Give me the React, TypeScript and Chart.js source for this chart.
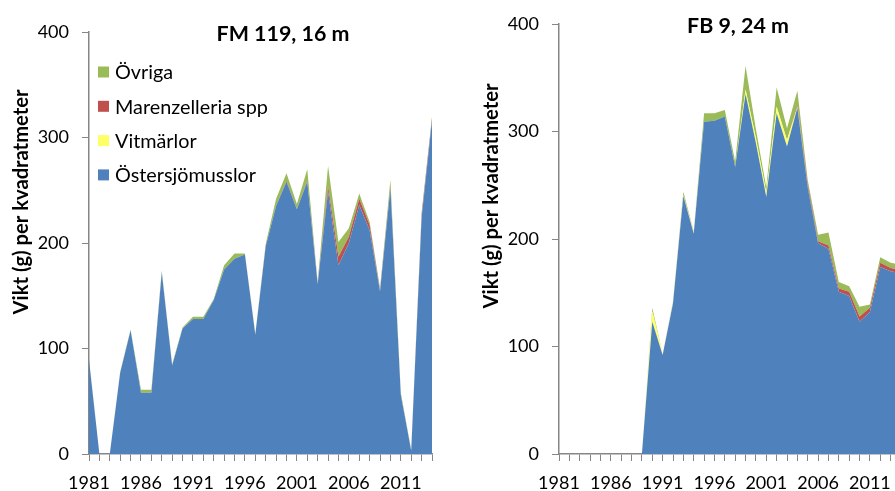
import React, { useEffect, useRef } from 'react';
import { Chart, registerables } from 'chart.js';

Chart.register(...registerables);

// ---------- data ----------
const years = [
  '1981', '1982', '1983', '1984', '1985', '1986', '1987', '1988', '1989', '1990',
  '1991', '1992', '1993', '1994', '1995', '1996', '1997', '1998', '1999', '2000',
  '2001', '2002', '2003', '2004', '2005', '2006', '2007', '2008', '2009', '2010',
  '2011', '2012', '2013', '2014',
];

const seriesNames = ['Östersjömusslor', 'Vitmärlor', 'Marenzelleria spp', 'Övriga'];
const yTickValues = [0, 100, 200, 300, 400];

// FM 119, 16 m
const fmMusslor = [89, 0, 0, 77, 117, 58, 58, 172, 84, 119, 128, 128, 146, 175, 185, 189, 113, 197, 235, 258, 232, 258, 161, 249, 179, 200, 236, 212, 154, 252, 56, 3, 224, 316];
const fmVitmarlor = [0, 0, 0, 0, 0, 0, 0, 0, 0, 0, 0, 0, 0, 0, 0, 0, 0, 0, 0, 0, 0, 0, 0, 0, 0, 0, 0, 0, 0, 0, 0, 0, 0, 0];
const fmMarenzelleria = [0, 0, 0, 0, 0, 0, 0, 0, 0, 0, 0, 0, 0, 0, 0, 0, 0, 0, 0, 1, 0, 1, 0, 5, 8, 6, 6, 5, 1, 1, 0, 0, 3, 2];
const fmOvriga = [1, 0, 0, 1, 1, 3, 3, 2, 1, 1, 2, 2, 1, 4, 5, 1, 1, 2, 7, 7, 5, 11, 2, 19, 14, 8, 5, 3, 2, 7, 2, 1, 2, 2];

// FB 9, 24 m
const fbMusslor = [0, 0, 0, 0, 0, 0, 0, 0, 0, 123, 92, 140, 240, 205, 309, 310, 314, 267, 335, 289, 239, 317, 286, 322, 248, 196, 191, 151, 147, 123, 132, 174, 170, 168];
const fbVitmarlor = [0, 0, 0, 0, 0, 0, 0, 0, 0, 10, 1, 1, 1, 1, 0, 0, 0, 0, 4, 5, 4, 6, 6, 1, 0, 0, 0, 0, 0, 0, 0, 0, 0, 0];
const fbMarenzelleria = [0, 0, 0, 0, 0, 0, 0, 0, 0, 0, 0, 0, 0, 0, 0, 0, 0, 0, 0, 0, 0, 0, 0, 2, 3, 2, 3, 3, 4, 5, 4, 4, 3, 3];
const fbOvriga = [0, 0, 0, 0, 0, 0, 0, 0, 0, 3, 0, 1, 3, 1, 8, 7, 6, 5, 22, 8, 5, 18, 11, 13, 4, 6, 12, 6, 5, 9, 3, 5, 5, 5];

// ---------- styles ----------
const COLORS = ['#4F81BD', '#FFFF66', '#C0504D', '#9BBB59'];
const AXIS = '#868686';
const FONT = 'Lato, "Open Sans", "DejaVu Sans", sans-serif';

function fitText(ctx: CanvasRenderingContext2D, text: string, x: number, y: number, width: number, weight: string) {
  ctx.font = `${weight} 20px ${FONT}`;
  const w = ctx.measureText(text).width;
  const size = (20 * width) / w;
  ctx.font = `${weight} ${size}px ${FONT}`;
  ctx.textAlign = 'center';
  ctx.textBaseline = 'middle';
  ctx.fillText(text, x, y);
}

type Cfg = {
  title: string;
  titleX: number;
  titleY: number;
  titleW: number;
  yTitleX: number;
  yTitleY: number;
  legend: boolean;
  padTop: number;
  padRight: number;
  series: number[][];
};

function makeOverlay(cfg: Cfg) {
  return {
    id: 'overlay',
    afterDraw(chart: any) {
      const ctx: CanvasRenderingContext2D = chart.ctx;
      ctx.save();
      ctx.fillStyle = '#000';
      fitText(ctx, cfg.title, cfg.titleX, cfg.titleY, cfg.titleW, 'bold');
      ctx.save();
      ctx.translate(cfg.yTitleX, cfg.yTitleY);
      ctx.rotate(-Math.PI / 2);
      fitText(ctx, 'Vikt (g) per kvadratmeter', 0, 0, 225, 'bold');
      ctx.restore();
      if (cfg.legend) {
        ctx.font = `normal 20px ${FONT}`;
        const w = ctx.measureText('Marenzelleria spp').width;
        const size = (20 * 153) / w;
        ctx.font = `normal ${size}px ${FONT}`;
        ctx.textAlign = 'left';
        ctx.textBaseline = 'middle';
        const order = [3, 2, 1, 0];
        order.forEach((di, i) => {
          const cy = 72 + i * 34.3;
          ctx.fillStyle = COLORS[di];
          ctx.fillRect(98, cy - 5.5, 11, 11);
          ctx.fillStyle = '#000';
          ctx.fillText(seriesNames[di], 115, cy + 1);
        });
      }
      ctx.restore();
    },
  };
}

function AreaChart({ cfg, left }: { cfg: Cfg; left: number }) {
  const ref = useRef<HTMLCanvasElement>(null);
  useEffect(() => {
    if (!ref.current) return;
    const chart = new Chart(ref.current, {
      type: 'line',
      data: {
        labels: years,
        datasets: cfg.series.map((data, i) => ({
          label: seriesNames[i],
          data,
          backgroundColor: COLORS[i],
          borderColor: 'rgba(0,0,0,0)',
          borderWidth: 0,
          pointRadius: 0,
          tension: 0,
          fill: i === 0 ? 'origin' : '-1',
        })),
      },
      options: {
        animation: false,
        responsive: false,
        devicePixelRatio: 1,
        layout: { padding: { top: cfg.padTop, right: cfg.padRight, left: 0, bottom: 0 } },
        plugins: { legend: { display: false }, title: { display: false }, tooltip: { enabled: false } },
        scales: {
          x: {
            type: 'category',
            offset: false,
            grid: { display: true, drawOnChartArea: false, drawTicks: true, tickLength: 7, color: AXIS, lineWidth: 1 },
            border: { display: true, color: AXIS, width: 1.5 },
            ticks: {
              autoSkip: false,
              maxRotation: 0,
              minRotation: 0,
              padding: 11,
              color: '#000',
              font: { family: FONT, size: 18 },
              callback: (_v: any, idx: number) => (idx % 5 === 0 ? years[idx] : ''),
            },
            afterFit: (s: any) => {
              s.height = 491 - 454;
            },
          },
          y: {
            stacked: true,
            min: 0,
            max: 400,
            grid: { display: true, drawOnChartArea: false, drawTicks: true, tickLength: 7, color: AXIS, lineWidth: 1 },
            border: { display: true, color: AXIS, width: 1.5 },
            afterBuildTicks: (s: any) => {
              s.ticks = yTickValues.map((v) => ({ value: v }));
            },
            ticks: {
              padding: 13,
              color: '#000',
              font: { family: FONT, size: 18 },
            },
            afterFit: (s: any) => {
              s.width = 89;
            },
          },
        },
      },
      plugins: [makeOverlay(cfg)],
    } as any);
    return () => chart.destroy();
  }, []);
  return (
    <canvas
      ref={ref}
      width={450}
      height={491}
      style={{ position: 'absolute', left, top: 0, width: 450, height: 491 }}
    />
  );
}

const leftCfg: Cfg = {
  title: 'FM 119, 16 m',
  titleX: 283,
  titleY: 34,
  titleW: 133,
  yTitleX: 21,
  yTitleY: 202,
  legend: true,
  padTop: 32,
  padRight: 18,
  series: [fmMusslor, fmVitmarlor, fmMarenzelleria, fmOvriga],
};

const rightCfg: Cfg = {
  title: 'FB 9, 24 m',
  titleX: 268,
  titleY: 26,
  titleW: 102,
  yTitleX: 21,
  yTitleY: 196,
  legend: false,
  padTop: 24,
  padRight: 19,
  series: [fbMusslor, fbVitmarlor, fbMarenzelleria, fbOvriga],
};

export default function App() {
  return (
    <div
      style={{
        position: 'fixed',
        left: 0,
        top: 0,
        width: 895,
        height: 491,
        overflow: 'hidden',
        background: '#fff',
      }}
    >
      <AreaChart cfg={leftCfg} left={0} />
      <AreaChart cfg={rightCfg} left={470} />
    </div>
  );
}
